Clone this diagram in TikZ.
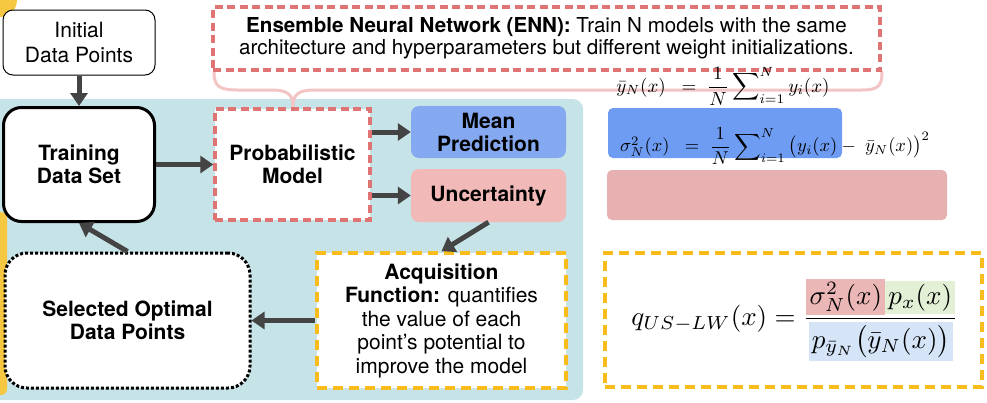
\documentclass[tikz,border=0pt]{standalone}
\usepackage{amsmath}
\usepackage{fontspec}
\setmainfont{TeX Gyre Heros}
\usetikzlibrary{arrows.meta}
\definecolor{panel}{HTML}{C6E3E7}
\definecolor{darkarrow}{HTML}{444444}
\definecolor{reddash}{HTML}{E07474}
\definecolor{pinkbrace}{HTML}{F3C4C4}
\definecolor{meanblue}{HTML}{85A9F0}
\definecolor{uncpink}{HTML}{F2B9B9}
\definecolor{yellowdash}{HTML}{F8BD1C}
\definecolor{bigblue}{HTML}{6E9CF2}
\definecolor{bigpink}{HTML}{E8B1B1}
\definecolor{numpink}{HTML}{EAB6B6}
\definecolor{numgreen}{HTML}{E3F0D6}
\definecolor{denblue}{HTML}{D6E4F8}
\definecolor{yellowblob}{HTML}{F6C842}
\tikzset{
  box/.style={draw, align=center, inner sep=0pt, fill=white},
  plain/.style={font=\fontsize{21}{25}\selectfont},
  boldt/.style={font=\fontsize{21}{23}\selectfont\bfseries},
  arr/.style={draw=darkarrow, line width=5pt, -{Triangle[length=13pt,width=17pt]}},
  reddashed/.style={draw=reddash, line width=3.5pt, dash pattern=on 8pt off 4.5pt},
  yellowdashed/.style={draw=yellowdash, line width=3.5pt, dash pattern=on 10pt off 6pt},
  formula/.style={inner sep=0pt, font=\normalsize},
}
\begin{document}
\begin{tikzpicture}[x=1pt,y=-1pt]
\useasboundingbox (0,0) rectangle (987,402);
% background elements
\fill[yellowblob] (0,0) circle (17);
\fill[panel, rounded corners=10pt] (-20,99) rectangle (583,400);
\fill[yellowblob, rounded corners=6pt] (-10,212) rectangle (7,395);
% brace
\draw[pinkbrace, line width=3pt, line cap=round]
  (214,72) .. controls (214,87) and (220,90) .. (238,90) -- (272,90)
  .. controls (288,90) and (293,95) .. (293,106);
\draw[pinkbrace, line width=3pt, line cap=round]
  (293,106) .. controls (293,95) and (298,90) .. (314,90) -- (862,90)
  .. controls (878,90) and (882,86) .. (882,72);
% nodes
\node[box, plain, rounded corners=10pt, line width=1pt, minimum width=152pt, minimum height=65pt] (init) at (79,42.5) {Initial\\Data Points};
\node[box, boldt, rounded corners=18pt, line width=3pt, minimum width=151pt, minimum height=114pt] (train) at (79,164.5) {Training\\Data Set};
\node[box, boldt, reddashed, minimum width=155pt, minimum height=111pt] (prob) at (292.5,164.5) {Probabilistic\\Model};
\node[box, reddashed, minimum width=667pt, minimum height=63pt, font=\fontsize{20.6}{22}\selectfont] (enn) at (546.5,38.5) {\textbf{Ensemble Neural Network (ENN):} Train N models with the same\\architecture and hyperparameters but different weight initializations.};
\node[align=center, boldt, fill=meanblue, rounded corners=8pt, minimum width=155pt, minimum height=52pt, inner sep=0pt] (mean) at (488.5,132) {Mean\\Prediction};
\node[align=center, boldt, fill=uncpink, rounded corners=8pt, minimum width=155pt, minimum height=53pt, inner sep=0pt] (unc) at (488.5,195.5) {Uncertainty};
\node[box, yellowdashed, minimum width=249pt, minimum height=135pt, font=\fontsize{21}{23.5}\selectfont] (acq) at (441.5,320.5) {\textbf{Acquisition}\\\textbf{Function:} quantifies\\the value of each\\point’s potential to\\improve the model};
\node[box, boldt, draw=black, line width=3pt, dotted, rounded corners=22pt, minimum width=245pt, minimum height=135pt] (sel) at (127.5,320.5) {Selected Optimal\\Data Points};
% connectors
\draw[arr] (init.south) -- (train.north);
\draw[arr] (train.east) -- (prob.west);
\draw[arr] (prob.east |- mean.west) -- (mean.west);
\draw[arr] (prob.east |- unc.west) -- (unc.west);
\draw[arr] (unc.south) -- (acq.north);
\draw[arr] (acq.west) -- (sel.east);
\draw[arr] (sel.north) -- (train.south);
% right side
\fill[bigblue, rounded corners=5pt] (608,108) rectangle (842,158);
\fill[bigpink, rounded corners=5pt] (607,170) rectangle (947,220);
\node[formula, scale=1.9] (f1) at (723,86) {$\bar{y}_N(x)\;\;=\;\displaystyle\frac{1}{N}\sum\nolimits_{i=1}^{N} y_i(x)$};
\node[formula, scale=1.85] (f2) at (775,146) {$\sigma_N^2(x)\;\;=\;\displaystyle\frac{1}{N}\sum\nolimits_{i=1}^{N} \big(y_i(x)-\;\bar{y}_N(x)\big)^2$};
\node[yellowdashed, minimum width=377pt, minimum height=134pt] (qbox) at (793.5,320) {};
\node[formula, scale=2.7] (q) at (795,320) {\setlength{\fboxsep}{1.2pt}$q_{US-LW}(x) = \displaystyle\frac{\colorbox{numpink}{$\sigma_N^2(x)$}\colorbox{numgreen}{$p_x(x)$}}{\colorbox{denblue}{$p_{\bar{y}_N}\big(\bar{y}_N(x)\big)$}}$};
\end{tikzpicture}
\end{document}
